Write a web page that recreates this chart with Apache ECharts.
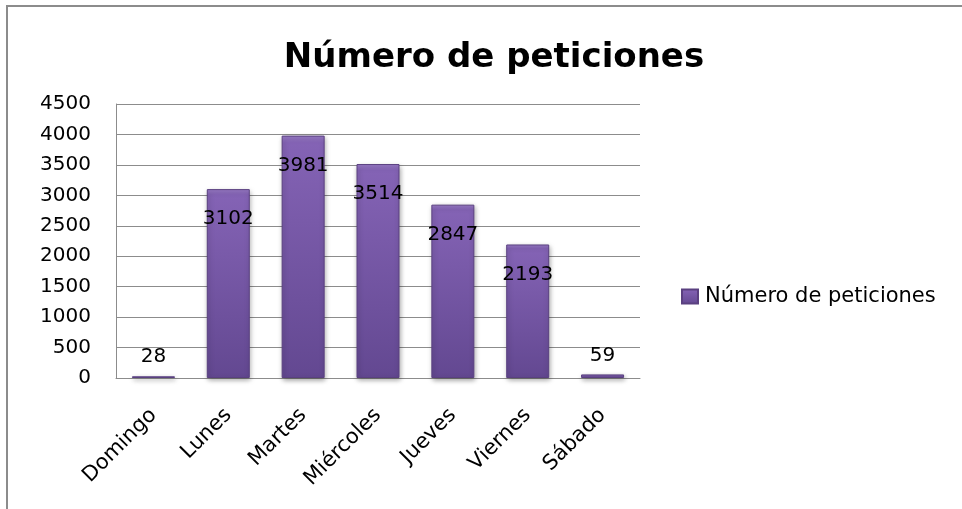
<!DOCTYPE html>
<html>
<head>
<meta charset="utf-8">
<script src="https://cdn.jsdelivr.net/npm/echarts@6/dist/echarts.min.js"></script>
<style>
html,body{margin:0;padding:0;background:#fff;}
#chart{position:absolute;left:0;top:0;width:962px;height:509px;}
#frame{position:absolute;left:6px;top:5px;width:960px;height:510px;border-left:2px solid #8c8c8c;border-top:2px solid #8c8c8c;pointer-events:none;}
</style>
</head>
<body>
<div id="chart"></div>
<div id="frame"></div>
<script>
const titleText = 'Número de peticiones';
const seriesName = 'Número de peticiones';
const categories = ['Domingo', 'Lunes', 'Martes', 'Miércoles', 'Jueves', 'Viernes', 'Sábado'];
const values = [28, 3102, 3981, 3514, 2847, 2193, 59];
const yTicks = [0, 500, 1000, 1500, 2000, 2500, 3000, 3500, 4000, 4500];

const font = 'DejaVu Sans';
const barColor = new echarts.graphic.LinearGradient(0, 0, 0, 1, [
  {offset: 0, color: '#9a7cc8'},
  {offset: 0.03, color: '#8463b5'},
  {offset: 1, color: '#634891'}
]);

const data = values.map(v => {
  const small = v < 500;
  return {
    value: v,
    label: small ? {position: 'top', distance: 9} : {position: 'insideTop', distance: 20}
  };
});

const chart = echarts.init(document.getElementById('chart'));
chart.setOption({
  animation: false,
  title: {
    text: titleText,
    left: 489, top: 36, textAlign: 'center',
    textStyle: {fontFamily: font, fontWeight: 'bold', fontSize: 34, color: '#000'}
  },
  legend: {
    data: [seriesName],
    left: 681, top: 286, padding: 0,
    itemWidth: 16, itemHeight: 14, itemGap: 6,
    icon: 'rect',
    textStyle: {fontFamily: font, fontSize: 21, color: '#000', padding: [0, 0, 0, 2]}
  },
  grid: {left: 116, right: 322, top: 104, bottom: 131, containLabel: false},
  xAxis: {
    type: 'category',
    data: categories,
    axisLine: {show: true, lineStyle: {color: '#8c8c8c', width: 1}},
    axisTick: {show: false},
    axisLabel: {rotate: 45, margin: 34, fontFamily: font, fontSize: 21, color: '#000', interval: 0}
  },
  yAxis: {
    type: 'value',
    min: yTicks[0], max: yTicks[yTicks.length - 1], interval: yTicks[1] - yTicks[0],
    axisLine: {show: true, lineStyle: {color: '#8c8c8c', width: 1}},
    axisTick: {show: false},
    splitLine: {show: true, lineStyle: {color: '#8c8c8c', width: 1}},
    axisLabel: {margin: 25, fontFamily: font, fontSize: 20, color: '#000', formatter: v => String(v)}
  },
  series: [{
    name: seriesName,
    type: 'bar',
    data: data,
    barWidth: 43,
    itemStyle: {
      color: barColor,
      borderColor: '#5a4080', borderWidth: 1,
      shadowColor: 'rgba(0,0,0,0.35)', shadowBlur: 5, shadowOffsetX: 1, shadowOffsetY: 2
    },
    label: {show: true, fontFamily: font, fontSize: 20, color: '#000'}
  }]
});
</script>
</body>
</html>
